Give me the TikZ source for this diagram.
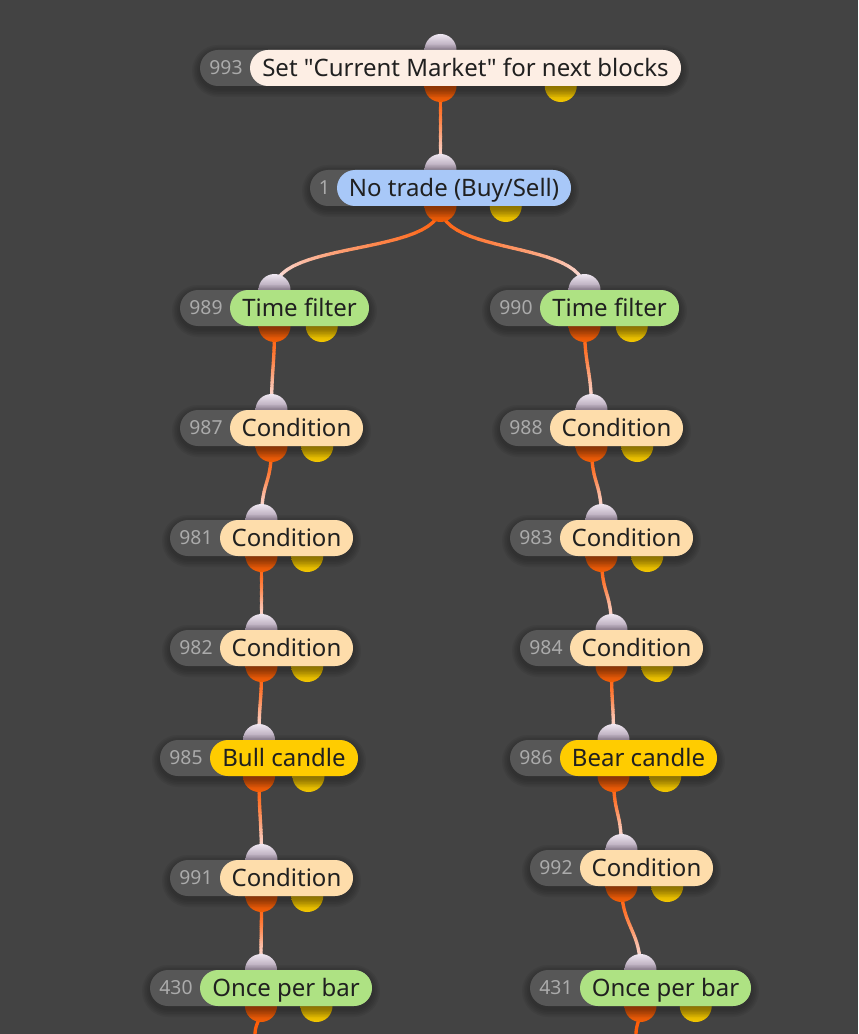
\documentclass[tikz,border=0pt]{standalone}
\usepackage{fontspec}
\setmainfont{Noto Sans}[Ligatures=TeXOff]
\definecolor{bgc}{HTML}{434343}
\definecolor{greyc}{HTML}{575757}
\definecolor{numc}{HTML}{ABABAB}
\definecolor{txtc}{HTML}{202020}
\definecolor{cMarket}{HTML}{FDEEE4}
\definecolor{cTrade}{HTML}{A8C8F8}
\definecolor{cGreen}{HTML}{AEE283}
\definecolor{cCond}{HTML}{FEDDAB}
\definecolor{cCandle}{HTML}{FFCC00}
\definecolor{wireA}{HTML}{FF5E0A}
\definecolor{wireB}{HTML}{F9EEF6}
\definecolor{inTop}{HTML}{EFE7F1}
\definecolor{inMid}{HTML}{A797AB}
\definecolor{inBot}{HTML}{86768A}
\definecolor{outTop}{HTML}{8A3306}
\definecolor{outMid}{HTML}{B8480A}
\definecolor{outBot}{HTML}{F45E06}
\definecolor{yelTop}{HTML}{8A7000}
\definecolor{yelMid}{HTML}{BC9A00}
\definecolor{yelBot}{HTML}{F4C800}
\pgfdeclarelayer{bg}
\pgfdeclarelayer{wires}
\pgfsetlayers{bg,wires,main}
\tikzset{
  incirc/.style={circle, minimum size=24pt, inner sep=0pt, top color=inTop, bottom color=inBot, middle color=inMid},
  outcirc/.style={circle, minimum size=24pt, inner sep=0pt, top color=outTop, bottom color=outBot, middle color=outMid},
  yelcirc/.style={circle, minimum size=24pt, inner sep=0pt, top color=yelTop, bottom color=yelBot, middle color=yelMid},
  pill/.style={rounded corners=13.5pt, minimum height=27pt, inner sep=0pt, text height=12.9pt, text depth=0pt, font=\fontsize{18}{20}\selectfont, text=txtc},
  greypill/.style={fill=greyc, rounded corners=13.5pt, minimum height=27pt, inner sep=0pt},
  numtext/.style={inner sep=0pt, text height=10.4pt, text depth=0pt, font=\fontsize{14.5}{16}\selectfont, text=numc},
  wirestyle/.style={line width=2.5pt, line cap=round}
}
% #1 name, #2 number, #3 grey left, #4 colour left, #5 right, #6 y, #7 colour, #8 text
\newcommand{\flowblock}[8]{%
  \pgfmathsetmacro\fbmid{(#3+#5)/2}%
  \pgfmathsetmacro\fbyel{#3+0.75*(#5-#3)}%
  \pgfmathsetmacro\fbtxt{(#4+#5)/2}%
  \pgfmathsetmacro\fbnum{(#3+#4)/2+1}%
  \node[incirc] (#1-in) at (\fbmid,#6-18) {};%
  \node[outcirc] (#1-out) at (\fbmid,#6+18) {};%
  \node[yelcirc] (#1-y) at (\fbyel,#6+18) {};%
  \foreach \s in {1,...,5}{\pgfmathsetmacro\fbr{13.5+1.2*\s}\fill[black,opacity=0.05,rounded corners=\fbr pt] (#3-1.6*\s,#6-18-1.6*\s+3) rectangle (#5+1.6*\s,#6+18+1.6*\s+3);}%
  \node[greypill, minimum width={(#5-#3)*0.75pt}] (#1-g) at (\fbmid,#6) {};%
  \node[numtext] (#1-n) at (\fbnum,#6) {#2};%
  \node[pill, fill=#7, minimum width={(#5-#4)*0.75pt}] (#1) at (\fbtxt,#6) {#8};%
}
% gradient wire from output of #1 to input of #2, control length #3
\newcommand{\wire}[3]{%
  \path (#1-out.center) .. controls +(0,#3) and +(0,-#3) .. (#2-in.center)
    \foreach \i in {0,...,24}{ coordinate[pos=\i/24] (w\i) };%
  \begin{pgfonlayer}{wires}%
  \foreach \i [count=\j from 0] in {1,...,24}{%
    \pgfmathtruncatemacro\pc{100*(1-((\i-0.5)/24)^1.5)}%
    \draw[wirestyle, draw=wireA!\pc!wireB] (w\j) -- (w\i);%
  }%
  \end{pgfonlayer}%
}
\begin{document}
\begin{tikzpicture}[x=0.75pt,y=-0.75pt]
\useasboundingbox (0,0) rectangle (858,1034);
\begin{pgfonlayer}{bg}
\fill[bgc] (0,0) rectangle (858,1034);
\end{pgfonlayer}

\flowblock{n993}{993}{200}{250}{681}{68}{cMarket}{Set "Current Market" for next blocks}
\flowblock{n1}{1}{310}{337}{571}{188}{cTrade}{No trade (Buy/Sell)}
\flowblock{n989}{989}{180}{230}{369}{308}{cGreen}{Time filter}
\flowblock{n990}{990}{490}{540}{679}{308}{cGreen}{Time filter}
\flowblock{n987}{987}{180}{230}{363}{428}{cCond}{Condition}
\flowblock{n988}{988}{500}{550}{683}{428}{cCond}{Condition}
\flowblock{n981}{981}{170}{220}{353}{538}{cCond}{Condition}
\flowblock{n983}{983}{510}{560}{693}{538}{cCond}{Condition}
\flowblock{n982}{982}{170}{220}{353}{648}{cCond}{Condition}
\flowblock{n984}{984}{520}{570}{703}{648}{cCond}{Condition}
\flowblock{n985}{985}{160}{210}{358}{758}{cCandle}{Bull candle}
\flowblock{n986}{986}{510}{560}{717}{758}{cCandle}{Bear candle}
\flowblock{n991}{991}{170}{220}{353}{878}{cCond}{Condition}
\flowblock{n992}{992}{530}{580}{713}{868}{cCond}{Condition}
\flowblock{n430}{430}{150}{200}{372}{988}{cGreen}{Once per bar}
\flowblock{n431}{431}{530}{580}{751}{988}{cGreen}{Once per bar}

\wire{n993}{n1}{40}
\wire{n1}{n989}{50}
\wire{n1}{n990}{50}
\wire{n989}{n987}{40}
\wire{n987}{n981}{40}
\wire{n981}{n982}{40}
\wire{n982}{n985}{40}
\wire{n985}{n991}{40}
\wire{n991}{n430}{40}
\wire{n990}{n988}{40}
\wire{n988}{n983}{40}
\wire{n983}{n984}{40}
\wire{n984}{n986}{40}
\wire{n986}{n992}{40}
\wire{n992}{n431}{40}

\coordinate (e430) at (255,1034);
\coordinate (e431) at (636,1034);
\begin{pgfonlayer}{wires}
\draw[wirestyle, draw=wireA] (n430-out.center) .. controls +(0,14) and +(0,-10) .. (e430);
\draw[wirestyle, draw=wireA] (n431-out.center) .. controls +(0,14) and +(0,-10) .. (e431);
\end{pgfonlayer}
\end{tikzpicture}
\end{document}
